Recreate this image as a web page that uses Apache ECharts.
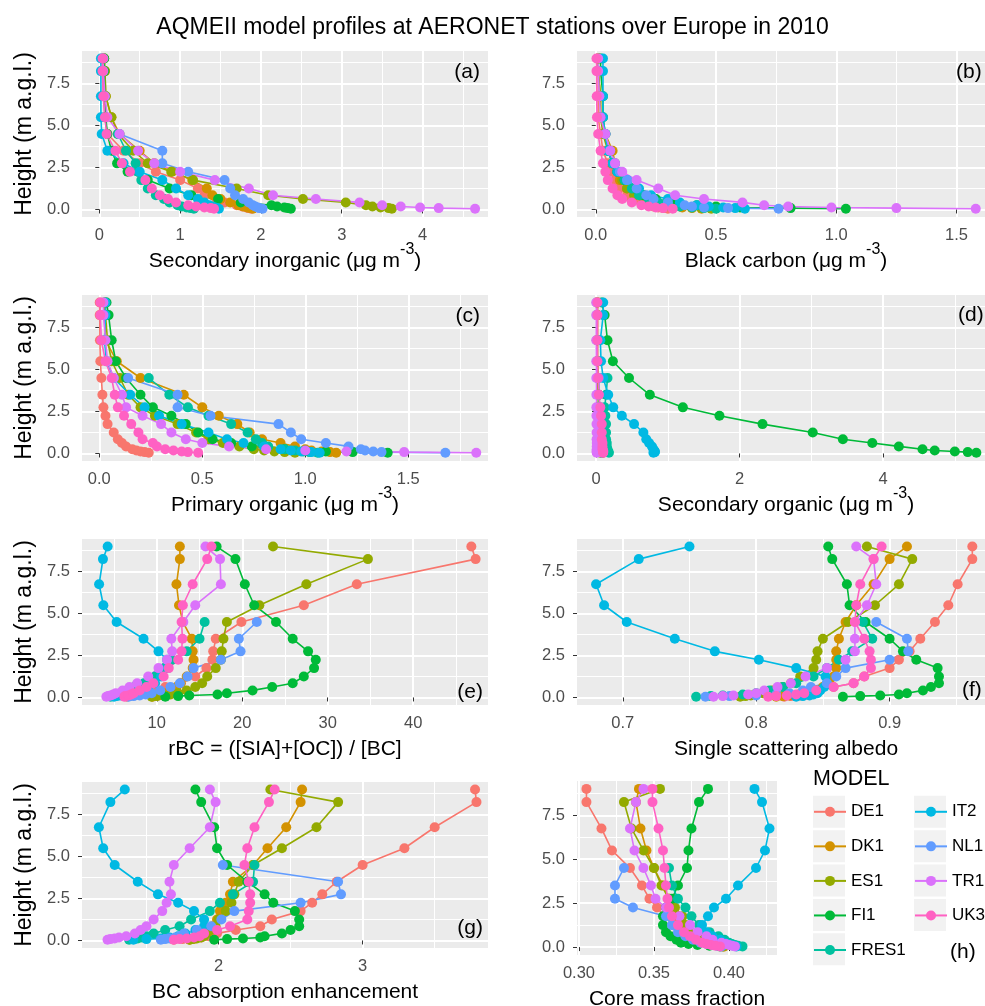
<!DOCTYPE html>
<html><head><meta charset="utf-8">
<script src="https://cdn.jsdelivr.net/npm/echarts@6/dist/echarts.min.js"></script>
<style>html,body{margin:0;padding:0;background:#fff}#c{width:985px;height:1006px}</style>
</head><body><div id="c"></div>
<script>
// ---------- DATA ----------
const models = ['DE1','DK1','ES1','FI1','FRES1','IT2','NL1','TR1','UK3'];
const colors = ['#F8766D','#D39200','#93AA00','#00BA38','#00C19F','#00B9E3','#619CFF','#DB72FB','#FF61C3'];
const heights = [0.04,0.08,0.12,0.18,0.25,0.42,0.62,0.85,1.25,1.75,2.25,2.75,3.5,4.5,5.5,6.75,8.25,9.0];

// (a) Secondary inorganic, one list per model (same order as models)
const sia = [
  [1.88,1.85,1.82,1.77,1.7,1.55,1.45,1.3,1.22,1.0,0.7,0.5,0.3,0.1,0.07,0.05,0.04,0.04],
  [1.9,1.87,1.83,1.78,1.72,1.62,1.5,1.4,1.33,1.15,0.9,0.68,0.5,0.25,0.15,0.08,0.07,0.06],
  [3.62,3.58,3.48,3.38,3.3,3.05,2.52,2.09,1.7,1.16,0.89,0.6,0.42,0.23,0.15,0.08,0.07,0.06],
  [2.37,2.33,2.29,2.2,2.13,1.75,1.47,1.14,0.87,0.6,0.35,0.22,0.15,0.1,0.08,0.07,0.06,0.06],
  [1.17,1.13,1.08,1.02,0.97,0.87,0.8,0.7,0.6,0.52,0.48,0.45,0.33,0.23],
  [1.48,1.46,1.43,1.4,1.36,1.3,1.22,1.1,0.95,0.78,0.5,0.3,0.1,0.03,0.02,0.02,0.02,0.02],
  [2.02,1.98,1.96,1.93,1.9,1.85,1.78,1.68,1.62,1.55,1.1,0.78,0.78,0.25],
  [4.65,4.2,3.97,3.73,3.5,3.22,2.68,2.15,1.85,1.43,1.0,0.68,0.48,0.25,0.1,0.07,0.05,0.05],
  [1.42,1.38,1.3,1.2,1.1,0.95,0.85,0.75,0.65,0.57,0.38,0.28,0.2,0.09,0.07,0.05,0.04,0.04]
];
// (b) Black carbon
const bc = [
  [0.3,0.28,0.26,0.24,0.22,0.19,0.16,0.13,0.1,0.08,0.06,0.05,0.03,0.02,0.01,0.01,0.01,0.01],
  [0.44,0.4,0.36,0.32,0.28,0.24,0.2,0.16,0.13,0.1,0.09,0.08,0.07,0.04,0.02,0.02,0.01,0.01],
  [0.48,0.44,0.4,0.35,0.3,0.25,0.2,0.16,0.13,0.11,0.09,0.07,0.05,0.03,0.02,0.02,0.01,0.01],
  [1.04,0.81,0.6,0.5,0.42,0.33,0.25,0.2,0.16,0.12,0.09,0.07,0.05,0.04,0.03,0.03,0.02,0.02],
  [0.5,0.45,0.4,0.35,0.3,0.26,0.22,0.18,0.15,0.12,0.09,0.07,0.05,0.04],
  [0.62,0.58,0.53,0.47,0.42,0.35,0.3,0.23,0.18,0.13,0.09,0.07,0.05,0.04,0.03,0.03,0.03,0.03],
  [0.76,0.55,0.45,0.4,0.37,0.3,0.24,0.21,0.17,0.13,0.1,0.08,0.06,0.04],
  [1.58,1.25,0.98,0.8,0.7,0.61,0.45,0.33,0.26,0.17,0.11,0.08,0.06,0.04,0.02,0.015,0.01,0.01],
  [0.32,0.28,0.25,0.22,0.19,0.15,0.11,0.09,0.07,0.05,0.04,0.03,0.02,0.01,0.005,0.004,0.003,0.003]
];
// (c) Primary organic
const poa = [
  [0.24,0.22,0.2,0.18,0.16,0.13,0.11,0.09,0.07,0.04,0.03,0.02,0.015,0.01,0.005,0.003,0.002,0.002],
  [1.15,1.12,1.08,1.03,1.0,0.95,0.88,0.79,0.73,0.67,0.58,0.5,0.41,0.2,0.085,0.03,0.025,0.025],
  [0.95,0.9,0.85,0.8,0.75,0.68,0.6,0.53,0.47,0.38,0.27,0.2,0.14,0.1,0.06,0.04,0.03,0.03],
  [1.4,1.23,1.1,1.0,0.9,0.74,0.64,0.55,0.48,0.42,0.35,0.26,0.2,0.13,0.08,0.06,0.045,0.035],
  [1.06,1.02,0.99,0.95,0.9,0.82,0.79,0.76,0.72,0.64,0.53,0.43,0.34,0.24],
  [1.07,1.03,0.98,0.93,0.88,0.8,0.7,0.62,0.53,0.4,0.29,0.22,0.15,0.07,0.035,0.025,0.03,0.03],
  [1.68,1.37,1.33,1.29,1.27,1.21,1.1,0.98,0.93,0.87,0.54,0.38,0.38,0.14],
  [1.83,1.48,1.2,1.0,0.81,0.63,0.5,0.42,0.35,0.3,0.21,0.13,0.11,0.07,0.04,0.03,0.02,0.02],
  [0.48,0.43,0.4,0.36,0.32,0.28,0.26,0.21,0.19,0.155,0.12,0.09,0.075,0.06,0.03,0.01,0.005,0.005]
];
// (d) Secondary organic
const soa = [
  [0.1,0.1,0.09,0.09,0.09,0.08,0.08,0.07,0.07,0.06,0.05,0.05,0.04,0.03,0.02,0.02,0.02,0.02],
  [0.09,0.09,0.09,0.08,0.08,0.08,0.07,0.07,0.06,0.06,0.05,0.04,0.04,0.03,0.02,0.02,0.02,0.02],
  [0.06,0.06,0.06,0.06,0.05,0.05,0.05,0.05,0.04,0.04,0.04,0.03,0.03,0.02,0.02,0.01,0.01,0.01],
  [5.3,5.18,5.0,4.72,4.55,4.22,3.85,3.44,3.02,2.32,1.72,1.21,0.75,0.46,0.235,0.16,0.12,0.08],
  [0.18,0.17,0.17,0.16,0.16,0.15,0.15,0.14,0.14,0.14,0.13,0.12,0.14,0.16],
  [0.8,0.82,0.82,0.81,0.8,0.78,0.74,0.7,0.66,0.53,0.36,0.24,0.17,0.1,0.07,0.06,0.1,0.1],
  [0.08,0.08,0.08,0.07,0.07,0.07,0.06,0.06,0.06,0.05,0.05,0.05,0.04,0.04],
  [0.01,0.01,0.01,0.01,0.01,0.01,0.01,0.008,0.008,0.007,0.006,0.005,0.005,0.004,0.004,0.003,0.003,0.003],
  [0.1,0.1,0.1,0.1,0.09,0.09,0.09,0.08,0.08,0.08,0.07,0.06,0.04,0.03,0.02,0.02,0.02,0.02]
];
// (e) rBC
const rbc = [
  [6.5,6.8,7.2,7.6,8.2,9.5,11,12.8,14.5,15.8,16.5,16.6,16.9,19.9,27.2,33.4,47.3,46.8],
  [9.5,9.8,10.2,10.6,11,11.7,12.3,12.8,13.5,14.2,14.3,14.2,14.1,13.05,12.6,12.3,12.7,12.7],
  [9.4,10,10.8,11.6,12.5,13.5,14.5,15.3,15.9,16.9,17.5,17.6,17.8,18.2,22,27.5,34.7,23.6],
  [11,12.5,13.8,17.1,18.2,21.2,23.5,25.9,27.2,28.4,28.6,27.7,25.9,23.95,21.4,20.3,19.2,17.0],
  [4.6,4.9,5.2,5.6,6.0,6.6,7.4,8.5,9.8,10.9,11.8,13.5,15.0,15.6],
  [5.0,5.3,5.7,6.3,7.0,8.0,9.0,9.8,10.5,11.3,11.2,10.2,8.45,5.3,3.75,3.25,3.7,4.25],
  [6.7,7.3,8.0,8.7,9.4,10.4,11.6,12.7,13.6,14.3,17.5,19.8,19.6,21.7],
  [4.1,4.3,4.6,4.9,5.2,6.0,6.8,7.7,9.0,10.2,11.2,11.8,11.7,13.1,14.5,17.5,17.4,15.7],
  [6.2,6.3,6.7,7.0,7.3,8.0,8.8,9.6,10.8,11.4,12.5,12.9,13.0,12.9,13.05,14.2,15.9,16.4]
];
// (f) Single scattering albedo
const ssa = [
  [0.821,0.826,0.833,0.838,0.841,0.847,0.858,0.873,0.881,0.9,0.907,0.915,0.923,0.934,0.944,0.951,0.962,0.962],
  [0.815,0.82,0.825,0.832,0.838,0.845,0.85,0.855,0.858,0.86,0.86,0.86,0.862,0.867,0.875,0.888,0.9,0.913],
  [0.788,0.792,0.796,0.8,0.805,0.812,0.82,0.826,0.833,0.843,0.845,0.846,0.85,0.869,0.889,0.907,0.917,0.883],
  [0.865,0.878,0.893,0.907,0.913,0.925,0.931,0.937,0.937,0.936,0.92,0.91,0.9,0.882,0.87,0.868,0.857,0.854],
  [0.755,0.766,0.775,0.79,0.8,0.81,0.82,0.83,0.843,0.853,0.862,0.872,0.887,0.88],
  [0.83,0.835,0.84,0.843,0.846,0.848,0.851,0.853,0.852,0.83,0.802,0.769,0.739,0.703,0.686,0.68,0.712,0.75],
  [0.762,0.78,0.8,0.815,0.825,0.835,0.841,0.853,0.86,0.867,0.9,0.914,0.913,0.89],
  [0.768,0.775,0.783,0.794,0.8,0.806,0.816,0.826,0.837,0.853,0.867,0.874,0.874,0.874,0.883,0.89,0.888,0.875],
  [0.809,0.815,0.823,0.83,0.836,0.845,0.858,0.873,0.881,0.886,0.886,0.885,0.881,0.874,0.875,0.878,0.888,0.894]
];
// (g) BC absorption enhancement
const bcae = [
  [1.69,1.75,1.82,1.88,1.93,1.99,2.12,2.29,2.37,2.57,2.65,2.72,2.82,3.0,3.29,3.5,3.79,3.78],
  [1.8,1.82,1.84,1.86,1.88,1.9,1.93,1.96,1.99,2.01,2.05,2.08,2.1,2.24,2.34,2.47,2.57,2.58],
  [1.8,1.82,1.85,1.88,1.9,1.92,1.95,1.98,2.0,2.05,2.09,2.11,2.14,2.24,2.44,2.68,2.83,2.36],
  [1.97,2.06,2.17,2.29,2.32,2.44,2.5,2.56,2.56,2.53,2.38,2.32,2.2,2.06,1.99,1.97,1.88,1.84],
  [1.38,1.41,1.44,1.47,1.5,1.55,1.63,1.73,1.81,1.94,2.01,2.1,2.24,2.25],
  [1.41,1.5,1.6,1.66,1.72,1.77,1.84,1.9,1.9,1.83,1.72,1.58,1.44,1.28,1.2,1.17,1.25,1.35],
  [1.6,1.63,1.66,1.7,1.73,1.76,1.85,1.95,2.02,2.11,2.57,2.85,2.83,2.03],
  [1.23,1.25,1.28,1.31,1.36,1.42,1.46,1.5,1.55,1.61,1.64,1.67,1.66,1.69,1.8,1.94,1.98,1.94],
  [1.69,1.73,1.78,1.83,1.87,1.9,1.99,2.08,2.2,2.21,2.22,2.22,2.21,2.18,2.2,2.25,2.35,2.39]
];
// (h) Core mass fraction
const cmf = [
  [0.396,0.394,0.392,0.39,0.387,0.382,0.376,0.369,0.363,0.357,0.352,0.347,0.342,0.334,0.322,0.315,0.305,0.305],
  [0.397,0.394,0.391,0.388,0.385,0.38,0.376,0.372,0.369,0.366,0.363,0.36,0.356,0.35,0.345,0.341,0.338,0.34],
  [0.396,0.393,0.39,0.387,0.384,0.38,0.376,0.373,0.371,0.369,0.364,0.36,0.355,0.35,0.343,0.335,0.33,0.354],
  [0.394,0.387,0.379,0.373,0.368,0.365,0.361,0.358,0.356,0.356,0.358,0.362,0.366,0.372,0.373,0.375,0.38,0.386],
  [0.409,0.406,0.404,0.402,0.4,0.397,0.393,0.387,0.38,0.375,0.371,0.366,0.362,0.36],
  [0.405,0.403,0.401,0.399,0.397,0.394,0.389,0.385,0.382,0.386,0.39,0.398,0.406,0.418,0.424,0.427,0.422,0.417],
  [0.395,0.392,0.389,0.385,0.381,0.376,0.371,0.366,0.362,0.358,0.336,0.324,0.324,0.33],
  [0.404,0.402,0.4,0.398,0.395,0.389,0.385,0.379,0.374,0.367,0.358,0.351,0.348,0.343,0.337,0.334,0.338,0.343],
  [0.394,0.391,0.388,0.385,0.382,0.378,0.374,0.37,0.366,0.362,0.36,0.359,0.358,0.357,0.356,0.353,0.349,0.349]
];

// tick labels
const yTicks = [0, 2.5, 5, 7.5];
const yMinor = [1.25, 3.75, 6.25, 8.75];
const xTicks = [[0,1,2,3,4],[0,0.5,1,1.5],[0,0.5,1,1.5],[0,2,4],[10,20,30,40],[0.7,0.8,0.9],[2,3],[0.30,0.35,0.40]];
const xMinor = [[0.5,1.5,2.5,3.5,4.5],[0.25,0.75,1.25],[0.25,0.75,1.25,1.75],[1,3,5],[5,15,25,35,45],[0.75,0.85,0.95],[1.5,2.5,3.5],[0.325,0.375,0.425]];
const xDecimals = [0,1,1,0,0,1,0,2];
const xRanges = [[-0.214,4.81],[-0.078,1.66],[-0.084,1.887],[-0.265,5.56],[1.25,48.75],[0.6657,0.979],[1.053,3.87],[0.2987,0.432]];
const yRange = [-0.45, 9.45];
const xTitles = [
  '{n|Secondary inorganic (μg m}{s|-3}{n|)}',
  '{n|Black carbon (μg m}{s|-3}{n|)}',
  '{n|Primary organic (μg m}{s|-3}{n|)}',
  '{n|Secondary organic (μg m}{s|-3}{n|)}',
  '{n|rBC = ([SIA]+[OC]) / [BC]}',
  '{n|Single scattering albedo}',
  '{n|BC absorption enhancement}',
  '{n|Core mass fraction}'
];
const panelLabels = ['(a)','(b)','(c)','(d)','(e)','(f)','(g)','(h)'];
const mainTitle = 'AQMEII model profiles at AERONET stations over Europe in 2010';
const yTitle = 'Height (m a.g.l.)';
const legendTitle = 'MODEL';

// ---------- LAYOUT ----------
const FONT = "'Liberation Sans', Arial, sans-serif";
const panelData = [sia, bc, poa, soa, rbc, ssa, bcae, cmf];
const gridBoxes = [
  {left:82, top:51, width:406, height:166},
  {left:577, top:51, width:418, height:166},
  {left:82, top:295, width:406, height:166},
  {left:577, top:295, width:418, height:166},
  {left:82, top:539, width:406, height:166},
  {left:577, top:539, width:418, height:166},
  {left:82, top:782, width:406, height:166},
  {left:577, top:781, width:200, height:174}
];
const labelPos = [
  {x:480, y:72, a:'right'}, {x:956, y:72, a:'left'},
  {x:480, y:316, a:'right'}, {x:958, y:315, a:'left'},
  {x:483, y:692, a:'right'}, {x:962, y:690, a:'left'},
  {x:483, y:928, a:'right'}, {x:950, y:952, a:'left'}
];

const grids = gridBoxes.map(g => Object.assign({show:true, backgroundColor:'#EBEBEB', borderWidth:0, containLabel:false, outerBoundsMode:'none'}, g));
const xAxes = [], yAxes = [], series = [];
const richName = {
  n: {fontSize:21, lineHeight:30, verticalAlign:'bottom', color:'#000', fontFamily:FONT},
  s: {fontSize:16, lineHeight:16, verticalAlign:'top', color:'#000', fontFamily:FONT}
};
panelData.forEach((pd, p) => {
  xAxes.push({
    gridIndex:p, type:'value', min:xRanges[p][0], max:xRanges[p][1],
    name:xTitles[p], nameLocation:'middle', nameGap:24.75, nameMoveOverlap:false,
    nameTextStyle:{color:'#000', fontFamily:FONT, rich:richName},
    axisLine:{show:false},
    axisTick:{show:true, length:4, lineStyle:{color:'#333333', width:1}, customValues:xTicks[p]},
    axisLabel:{customValues:xTicks[p], formatter:v => Number(v).toFixed(xDecimals[p]), color:'#4D4D4D', fontSize:16.5, fontFamily:FONT, margin:10},
    splitLine:{show:true, lineStyle:{color:'#FFFFFF', width:2}}
  });
  xAxes.push({
    gridIndex:p, type:'value', min:xRanges[p][0], max:xRanges[p][1], position:'bottom',
    axisLine:{show:false}, axisTick:{show:false, customValues:xMinor[p]}, axisLabel:{show:false},
    splitLine:{show:true, lineStyle:{color:'#FFFFFF', width:1}}
  });
  const leftCol = p % 2 === 0;
  yAxes.push({
    gridIndex:p, type:'value', min:yRange[0], max:yRange[1],
    name: leftCol ? yTitle : '', nameLocation:'middle', nameGap:46,
    nameTextStyle:{color:'#000', fontSize:23, fontFamily:FONT},
    axisLine:{show:false},
    axisTick:{show:true, length:4, lineStyle:{color:'#333333', width:1}, customValues:yTicks},
    axisLabel:{customValues:yTicks, formatter:v => Number(v).toFixed(1), color:'#4D4D4D', fontSize:16.5, fontFamily:FONT, margin:12},
    splitLine:{show:true, lineStyle:{color:'#FFFFFF', width:2}}
  });
  yAxes.push({
    gridIndex:p, type:'value', min:yRange[0], max:yRange[1], position:'left',
    axisLine:{show:false}, axisTick:{show:false, customValues:yMinor}, axisLabel:{show:false},
    splitLine:{show:true, lineStyle:{color:'#FFFFFF', width:1}}
  });
  pd.forEach((vals, m) => {
    series.push({
      name:models[m], type:'line', xAxisIndex:2*p, yAxisIndex:2*p,
      data: vals.map((v, k) => [v, heights[k]]),
      symbol:'circle', symbolSize:10, showAllSymbol:true,
      itemStyle:{color:colors[m]}, lineStyle:{color:colors[m], width:1.6},
      silent:true, animation:false, z:3
    });
  });
});

const graphics = [];
for (let i = 0; i < 5; i++) graphics.push({type:'rect', z:1, shape:{x:813, y:795.75 + i*34.4, width:32, height:32}, style:{fill:'#F2F2F2'}});
for (let i = 0; i < 4; i++) graphics.push({type:'rect', z:1, shape:{x:914, y:795.75 + i*34.4, width:32, height:32}, style:{fill:'#F2F2F2'}});
panelLabels.forEach((t, i) => {
  graphics.push({type:'text', z:10, x:labelPos[i].x, y:labelPos[i].y,
    style:{text:t, fill:'#000', font:'21px ' + FONT, align:labelPos[i].a, verticalAlign:'middle'}});
});

const legendCommon = {orient:'vertical', padding:0, itemWidth:32, itemHeight:12.5, itemGap:17.55, selectedMode:false,
  textStyle:{fontSize:17, color:'#000', fontFamily:FONT}, top:803.3};

const option = {
  animation:false,
  backgroundColor:'#FFFFFF',
  textStyle:{fontFamily:FONT},
  title:[
    {text:mainTitle, left:'center', top:16, padding:0, textStyle:{fontSize:23, fontWeight:'normal', color:'#000', fontFamily:FONT}},
    {text:legendTitle, left:813, top:768, padding:0, textStyle:{fontSize:21.5, fontWeight:'normal', color:'#000', fontFamily:FONT}}
  ],
  legend:[
    Object.assign({left:813, data:models.slice(0,5)}, legendCommon),
    Object.assign({left:914, data:models.slice(5)}, legendCommon)
  ],
  grid:grids, xAxis:xAxes, yAxis:yAxes, series:series, graphic:graphics
};
const chart = echarts.init(document.getElementById('c'), null, {renderer:'canvas'});
chart.setOption(option);
</script></body></html>
